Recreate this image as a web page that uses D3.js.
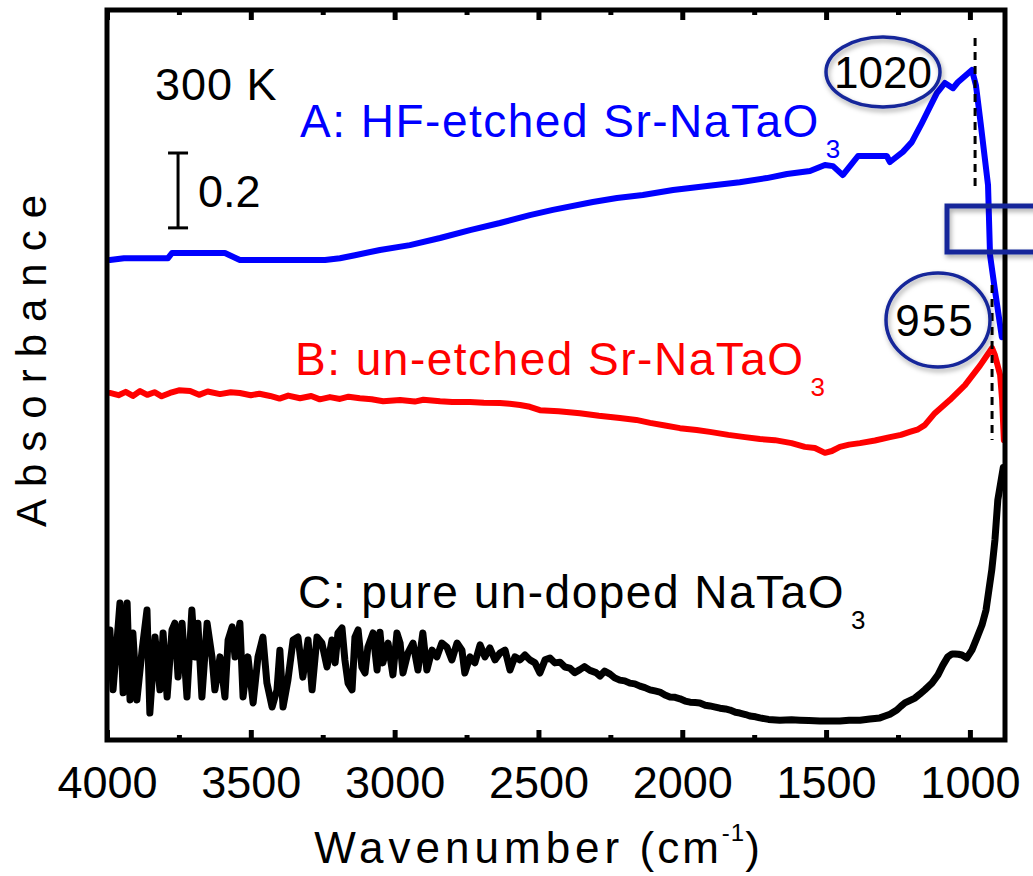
<!DOCTYPE html>
<html><head><meta charset="utf-8">
<script src="https://cdn.jsdelivr.net/npm/d3@7"></script>
<style>
body{margin:0;background:#fff;}
svg{display:block;font-family:"Liberation Sans",Arial,sans-serif;}
</style>
</head><body>
<svg id="c" width="1033" height="876"></svg>
<script>
// ---- data ----
const xMajorTicks = [4000,3500,3000,2500,2000,1500,1000];
const xMinorTicks = [3750,3250,2750,2250,1750,1250];
const xDomain = [4000, 878];
const yDomain = [0, 1.95];

// A: HF-etched Sr-NaTaO3 (wavenumber, absorbance with offset)
const seriesA = [[3990,1.282],[3941,1.287],[3788,1.287],[3774,1.301],[3590,1.301],[3538,1.282],[3242,1.282],[3190,1.287],[3138,1.295],[3051,1.309],[2947,1.322],[2842,1.341],[2738,1.362],[2634,1.381],[2530,1.402],[2450,1.416],[2311,1.437],[2227,1.448],[2137,1.456],[2032,1.469],[1914,1.480],[1800,1.490],[1706,1.501],[1636,1.512],[1556,1.520],[1504,1.536],[1476,1.533],[1442,1.509],[1389,1.560],[1289,1.560],[1278,1.544],[1233,1.571],[1202,1.597],[1167,1.648],[1139,1.691],[1115,1.728],[1087,1.755],[1059,1.741],[1042,1.757],[1017,1.774],[993,1.790],[979,1.749],[962,1.643],[937,1.482],[930,1.295],[913,1.202],[889,1.076]];

// B: un-etched Sr-NaTaO3
const seriesB = [[3990,0.927],[3960,0.921],[3935,0.930],[3910,0.919],[3885,0.932],[3860,0.922],[3835,0.929],[3810,0.918],[3781,0.927],[3750,0.934],[3711,0.932],[3680,0.922],[3650,0.931],[3607,0.924],[3570,0.929],[3538,0.927],[3500,0.921],[3470,0.925],[3433,0.919],[3400,0.912],[3370,0.920],[3329,0.913],[3290,0.919],[3260,0.910],[3225,0.916],[3190,0.911],[3160,0.917],[3121,0.913],[3080,0.910],[3040,0.905],[2981,0.908],[2930,0.904],[2900,0.909],[2842,0.905],[2800,0.903],[2738,0.903],[2690,0.901],[2634,0.900],[2600,0.898],[2564,0.895],[2530,0.890],[2495,0.881],[2430,0.878],[2356,0.873],[2290,0.866],[2217,0.860],[2160,0.855],[2112,0.847],[2060,0.840],[2008,0.833],[1950,0.828],[1904,0.823],[1840,0.815],[1782,0.809],[1730,0.804],[1678,0.801],[1620,0.793],[1574,0.783],[1539,0.780],[1504,0.767],[1480,0.772],[1452,0.783],[1420,0.789],[1382,0.793],[1330,0.800],[1278,0.809],[1240,0.815],[1209,0.823],[1180,0.830],[1157,0.841],[1122,0.873],[1070,0.908],[1017,0.948],[965,1.000],[923,1.047],[913,1.028],[895,0.975],[888,0.908],[882,0.801]];

// C: pure un-doped NaTaO3
const seriesC = [[3990,0.294],[3979,0.134],[3965,0.267],[3955,0.366],[3944,0.126],[3930,0.366],[3920,0.107],[3910,0.286],[3896,0.107],[3878,0.240],[3861,0.347],[3851,0.072],[3833,0.275],[3816,0.134],[3805,0.286],[3791,0.115],[3774,0.294],[3764,0.312],[3753,0.168],[3739,0.312],[3722,0.115],[3705,0.347],[3694,0.222],[3684,0.312],[3670,0.115],[3652,0.312],[3635,0.222],[3625,0.134],[3607,0.222],[3590,0.115],[3579,0.267],[3565,0.302],[3555,0.222],[3538,0.312],[3527,0.115],[3510,0.222],[3492,0.099],[3475,0.222],[3458,0.275],[3444,0.152],[3426,0.088],[3409,0.134],[3399,0.240],[3388,0.088],[3371,0.160],[3353,0.267],[3336,0.275],[3319,0.168],[3301,0.267],[3287,0.134],[3270,0.275],[3253,0.259],[3235,0.195],[3218,0.267],[3207,0.206],[3197,0.286],[3183,0.299],[3173,0.214],[3162,0.152],[3148,0.134],[3138,0.275],[3127,0.294],[3114,0.195],[3103,0.179],[3093,0.248],[3075,0.286],[3061,0.187],[3051,0.288],[3041,0.206],[3023,0.259],[3006,0.174],[2992,0.286],[2981,0.259],[2971,0.179],[2954,0.232],[2936,0.259],[2919,0.187],[2902,0.286],[2888,0.187],[2870,0.240],[2853,0.222],[2836,0.259],[2818,0.248],[2801,0.214],[2783,0.259],[2766,0.240],[2756,0.179],[2738,0.222],[2721,0.206],[2703,0.254],[2686,0.222],[2669,0.246],[2651,0.214],[2634,0.232],[2616,0.240],[2599,0.187],[2582,0.222],[2564,0.214],[2547,0.227],[2530,0.214],[2512,0.206],[2495,0.179],[2477,0.214],[2460,0.219],[2443,0.206],[2425,0.208],[2408,0.195],[2391,0.192],[2374,0.180],[2356,0.188],[2340,0.196],[2321,0.186],[2300,0.180],[2286,0.171],[2270,0.184],[2251,0.176],[2235,0.166],[2217,0.160],[2200,0.158],[2182,0.152],[2165,0.150],[2147,0.144],[2130,0.140],[2112,0.134],[2095,0.131],[2078,0.128],[2060,0.120],[2043,0.115],[2025,0.114],[2008,0.110],[1990,0.104],[1973,0.101],[1955,0.100],[1939,0.099],[1920,0.093],[1904,0.091],[1885,0.088],[1869,0.085],[1850,0.083],[1834,0.080],[1815,0.074],[1800,0.072],[1780,0.068],[1765,0.064],[1745,0.062],[1730,0.059],[1700,0.055],[1661,0.053],[1620,0.054],[1591,0.053],[1560,0.052],[1522,0.051],[1490,0.051],[1452,0.051],[1420,0.053],[1382,0.053],[1348,0.056],[1313,0.059],[1295,0.064],[1278,0.069],[1254,0.080],[1240,0.090],[1226,0.099],[1191,0.112],[1175,0.122],[1157,0.134],[1132,0.152],[1111,0.174],[1094,0.200],[1077,0.222],[1062,0.230],[1052,0.230],[1040,0.229],[1028,0.227],[1011,0.219],[993,0.240],[976,0.272],[958,0.307],[944,0.347],[934,0.401],[924,0.454],[913,0.534],[903,0.641],[890,0.700],[884,0.728]];

// annotation values: peak labels and where their marker lines sit on the wavenumber axis
const peakLabelA = 1020, peakLabelB = 955;
const peakLineA = 982, peakLineB = 923;
const scaleBar = {w: 3753, from: 1.368, size: 0.2};

// ---- layout ----
const svg = d3.select("#c");
const L = 107, R = 1005, T = 10, B = 740;
const x = d3.scaleLinear().domain(xDomain).range([L, R]);
const y = d3.scaleLinear().domain(yDomain).range([B, T]);

const defs = svg.append("defs");
const f = defs.append("filter").attr("id","sh").attr("x","-20%").attr("y","-20%").attr("width","140%").attr("height","150%");
f.append("feDropShadow").attr("dx",1.5).attr("dy",3).attr("stdDeviation",2.5).attr("flood-color","#000").attr("flood-opacity",0.35);

const line = d3.line().x(d => x(d[0])).y(d => y(d[1]));

// curves
const g = svg.append("g");
g.append("path").datum(seriesC).attr("d", line).attr("fill","none").attr("stroke","#000").attr("stroke-width",7).attr("stroke-linejoin","round").attr("stroke-linecap","round");
g.append("path").datum(seriesB).attr("d", line).attr("fill","none").attr("stroke","#ff0000").attr("stroke-width",6).attr("stroke-linejoin","round").attr("stroke-linecap","round");
g.append("path").datum(seriesA).attr("d", line).attr("fill","none").attr("stroke","#0000ff").attr("stroke-width",6).attr("stroke-linejoin","round").attr("stroke-linecap","round");

// dashed peak lines
svg.append("line").attr("x1",x(peakLineA)).attr("x2",x(peakLineA)).attr("y1",38).attr("y2",188)
  .attr("stroke","#000").attr("stroke-width",3).attr("stroke-dasharray","8,6");
svg.append("line").attr("x1",x(peakLineB)).attr("x2",x(peakLineB)).attr("y1",285).attr("y2",440)
  .attr("stroke","#000").attr("stroke-width",3).attr("stroke-dasharray","8,6");

// frame
svg.append("rect").attr("x",L).attr("y",T).attr("width",R-L).attr("height",B-T)
  .attr("fill","none").attr("stroke","#000").attr("stroke-width",5);

// axes (inward ticks on bottom and top)
function ticks(axis, ty){
  const gg = svg.append("g").attr("transform",`translate(0,${ty})`).call(axis);
  gg.select(".domain").remove();
  gg.selectAll(".tick line").attr("stroke","#000").attr("stroke-width",5);
  return gg;
}
const gB = ticks(d3.axisBottom(x).tickValues(xMajorTicks).tickSize(-10).tickPadding(24).tickFormat(d3.format("d")), B);
gB.selectAll(".tick text").attr("font-size",45).attr("fill","#000").attr("font-family","'Liberation Sans',Arial,sans-serif").attr("dy","0.75em");
ticks(d3.axisBottom(x).tickValues(xMinorTicks).tickSize(-5).tickFormat(""), B);
ticks(d3.axisTop(x).tickValues(xMajorTicks).tickSize(-10).tickFormat(""), T);
ticks(d3.axisTop(x).tickValues(xMinorTicks).tickSize(-5).tickFormat(""), T);

// axis titles
const xt = svg.append("text").attr("x",537).attr("y",863).attr("text-anchor","middle")
  .attr("font-size",44).attr("letter-spacing",5).attr("fill","#000");
xt.append("tspan").text("Wavenumber");
xt.append("tspan").attr("letter-spacing",3).text(" (cm");
xt.append("tspan").attr("font-size",24).attr("letter-spacing",1).attr("dy",-22).text("-1");
xt.append("tspan").attr("dy",22).attr("letter-spacing",0).text(")");

svg.append("text").attr("transform","translate(46,355) rotate(-90)").attr("text-anchor","middle")
  .attr("font-size",42).attr("letter-spacing",12).attr("fill","#000").text("Absorbance");

// 300 K and scale bar
svg.append("text").attr("x",155).attr("y",100).attr("font-size",45).attr("letter-spacing",1).attr("fill","#000").text("300 K");
const sbx = x(scaleBar.w), sy1 = y(scaleBar.from), sy2 = y(scaleBar.from + scaleBar.size);
svg.append("line").attr("x1",sbx).attr("x2",sbx).attr("y1",sy1).attr("y2",sy2).attr("stroke","#000").attr("stroke-width",3);
svg.append("line").attr("x1",sbx-10).attr("x2",sbx+10).attr("y1",sy1).attr("y2",sy1).attr("stroke","#000").attr("stroke-width",3);
svg.append("line").attr("x1",sbx-10).attr("x2",sbx+10).attr("y1",sy2).attr("y2",sy2).attr("stroke","#000").attr("stroke-width",3);
svg.append("text").attr("x",198).attr("y",207).attr("font-size",45).attr("fill","#000").text("0.2");

// series labels
function label(txt, xx, yy, color){
  const t = svg.append("text").attr("x",xx).attr("y",yy).attr("font-size",46).attr("letter-spacing",1.5).attr("fill",color);
  t.append("tspan").text(txt);
  t.append("tspan").attr("font-size",26).attr("dy",21).attr("dx",6).text("3");
}
label("A: HF-etched Sr-NaTaO", 300, 137, "#0000ff");
label("B: un-etched Sr-NaTaO", 295, 375, "#ff0000");
label("C: pure un-doped NaTaO", 298, 608, "#000");

// annotations: ellipses + box
svg.append("ellipse").attr("cx",883).attr("cy",72).attr("rx",57).attr("ry",35)
  .attr("fill","none").attr("stroke","#15289a").attr("stroke-width",3.5).attr("filter","url(#sh)");
svg.append("text").attr("x",883).attr("y",88).attr("text-anchor","middle").attr("font-size",44).attr("fill","#000").text(peakLabelA);
svg.append("ellipse").attr("cx",938).attr("cy",320).attr("rx",52).attr("ry",47)
  .attr("fill","none").attr("stroke","#15289a").attr("stroke-width",3.5).attr("filter","url(#sh)");
svg.append("text").attr("x",935).attr("y",336).attr("text-anchor","middle").attr("font-size",44).attr("letter-spacing",2).attr("fill","#000").text(peakLabelB);
svg.append("rect").attr("x",947).attr("y",206).attr("width",120).attr("height",46)
  .attr("fill","none").attr("stroke","#15289a").attr("stroke-width",5).attr("filter","url(#sh)");
</script>
</body></html>
